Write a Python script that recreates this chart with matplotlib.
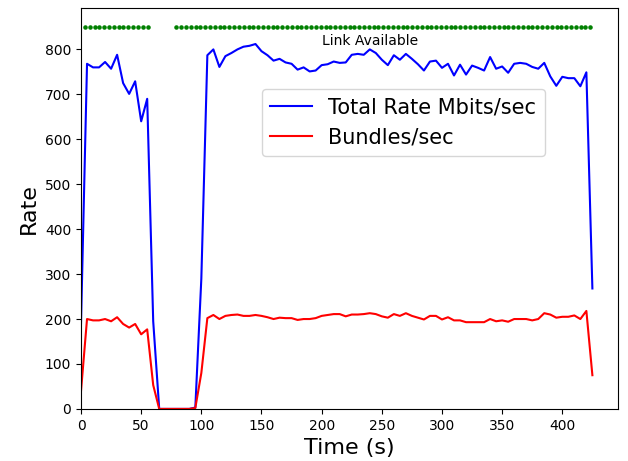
import matplotlib
matplotlib.use('Agg')
import matplotlib.pyplot as plt
import numpy as np

# sample times (s), one sample every 5 s
time_s = np.arange(0, 430, 5)

# total rate in Mbits/sec
total_rate = [190, 768, 760, 760, 772, 757, 788, 725, 701, 729,
              640, 690, 195, 0, 0, 0, 0, 0, 0, 3,
              290, 787, 800, 761, 785, 792, 800, 806, 808, 812,
              796, 787, 775, 779, 771, 768, 755, 760, 751, 753,
              765, 767, 773, 770, 771, 788, 790, 788, 800, 792,
              777, 765, 787, 777, 790, 779, 767, 753, 773, 775,
              759, 768, 742, 766, 744, 764, 759, 753, 783, 757,
              762, 748, 768, 770, 768, 761, 757, 770, 740, 719,
              739, 736, 736, 718, 749, 268]

# bundles per second
bundles = [40, 200, 197, 197, 200, 195, 204, 189, 181, 189,
           166, 177, 53, 0, 0, 0, 0, 0, 0, 2,
           80, 202, 209, 200, 207, 209, 210, 207, 207, 209,
           207, 204, 200, 203, 202, 202, 198, 200, 200, 202,
           207, 209, 211, 211, 206, 210, 210, 211, 213, 211,
           206, 203, 211, 207, 213, 207, 203, 199, 207, 207,
           199, 204, 197, 197, 193, 193, 193, 193, 200, 195,
           197, 194, 200, 200, 200, 197, 200, 213, 210, 203,
           205, 205, 208, 200, 218, 75]

# link availability markers
link_t1 = np.arange(3.3, 56, 4)
link_t2 = np.arange(79.2, 426, 4)
link_level = 850

fig = plt.figure(figsize=(6.28, 4.61), dpi=100)
ax = fig.add_subplot(111)
fig.subplots_adjust(left=0.129, right=0.984, top=0.983, bottom=0.113)

ax.plot(time_s, total_rate, color='blue', label='Total Rate Mbits/sec')
ax.plot(time_s, bundles, color='red', label='Bundles/sec')
ax.plot(link_t1, [link_level] * len(link_t1), 'g.', markersize=4.5)
ax.plot(link_t2, [link_level] * len(link_t2), 'g.', markersize=4.5)
ax.text(200, 810, 'Link Available', fontsize=10)

ax.set_xlim(left=0)
ax.set_ylim(bottom=0)

ax.set_xlabel('Time (s)', fontsize=16)
ax.set_ylabel('Rate', fontsize=16)
ax.legend(fontsize=15, loc='center', bbox_to_anchor=(0.60, 0.714))

plt.savefig('out.png')
